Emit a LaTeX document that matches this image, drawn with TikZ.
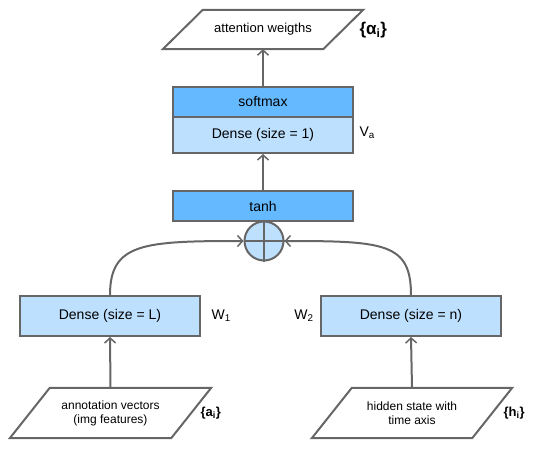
\documentclass[tikz,border=0pt]{standalone}
\usepackage{fontspec}
\setmainfont{Liberation Sans}
\usetikzlibrary{arrows.meta,calc}
\definecolor{dk}{RGB}{100,185,255}
\definecolor{lt}{RGB}{190,224,255}
\definecolor{ln}{RGB}{102,102,102}
\begin{document}
\begin{tikzpicture}[x=1pt,y=-1pt,
 box/.style={draw=ln,line width=2pt,minimum width=180pt,inner sep=0pt,font=\fontsize{14}{16}\selectfont},
 dark/.style={box,fill=dk,minimum height=30pt},
 light/.style={box,fill=lt},
 conn/.style={draw=ln,line width=2pt,-{Straight Barb[length=5pt,width=11pt,line width=1.5pt]}},
 io/.style={draw=ln,line width=2pt,line join=miter},
 iotext/.style={inner sep=0pt,align=center},
 lbl/.style={font=\fontsize{14}{16}\selectfont},
 setlbl/.style={font=\bfseries\fontsize{13}{15}\selectfont},
 bigset/.style={font=\bfseries\fontsize{17}{19}\selectfont}
]
\useasboundingbox (0,0) rectangle (559,457);

% output parallelogram
\node[iotext,minimum width=120pt,minimum height=39pt,font=\fontsize{13}{15}\selectfont] (att) at (263,29.5) {attention weigths};
\draw[io] (att.north west) -- ($(att.north east)+(40,0)$) -- (att.south east) -- ($(att.south west)+(-40,0)$) -- cycle;
\node[bigset,anchor=west] (alpha) at (356,30) {\{α\textsubscript{i}\}};

% softmax / dense
\node[dark] (soft) at (263,102) {softmax};
\node[light,minimum height=36pt] (d1) at (263,135) {Dense (size = 1)};
\node[lbl,anchor=west] (va) at (356,133) {V\textsubscript{a}};

% tanh
\node[dark] (tanh) at (263,206) {tanh};

% sum
\node[circle,draw=ln,fill=lt,line width=2pt,minimum size=39pt,inner sep=0pt] (sum) at (264,241) {};
\draw[ln,line width=2pt] (sum.north) -- (sum.south) (sum.west) -- (sum.east);

% dense L, dense n
\node[light,minimum height=40pt] (dl) at (110,316) {Dense (size = L)};
\node[lbl,anchor=west] (w1) at (208,316) {W\textsubscript{1}};
\node[light,minimum height=40pt] (dn) at (411,316) {Dense (size = n)};
\node[lbl,anchor=east] (w2) at (317,316) {W\textsubscript{2}};

% inputs
\node[iotext,minimum width=121pt,minimum height=50pt,font=\fontsize{12}{14}\selectfont] (ann) at (110.5,413) {annotation vectors\\(img features)};
\draw[io] (ann.north west) -- ($(ann.north east)+(40,0)$) -- (ann.south east) -- ($(ann.south west)+(-40,0)$) -- cycle;
\node[setlbl,anchor=west] (ai) at (197,413) {\{a\textsubscript{i}\}};

\node[iotext,minimum width=120pt,minimum height=50pt,font=\fontsize{12}{14}\selectfont] (hid) at (412,413) {hidden state with\\time axis};
\draw[io] (hid.north west) -- ($(hid.north east)+(40,0)$) -- (hid.south east) -- ($(hid.south west)+(-40,0)$) -- cycle;
\node[setlbl,anchor=west] (hi) at (500,413) {\{h\textsubscript{i}\}};

% connectors
\draw[conn] (soft.north) -- (att.south);
\draw[conn] (tanh.north) -- (d1.south);
\draw[ln,line width=2pt] (tanh.south) -- (sum.north);
\draw[conn] (ann.north) -- (dl.south);
\draw[conn] (hid.north) -- (dn.south);
\draw[conn] (dl.north) .. controls ($(dl.north)+(0,-52)$) and ($(sum.west)+(-100,0)$) .. (sum.west);
\draw[conn] (dn.north) .. controls ($(dn.north)+(0,-52)$) and ($(sum.east)+(100,0)$) .. (sum.east);
\end{tikzpicture}
\end{document}
